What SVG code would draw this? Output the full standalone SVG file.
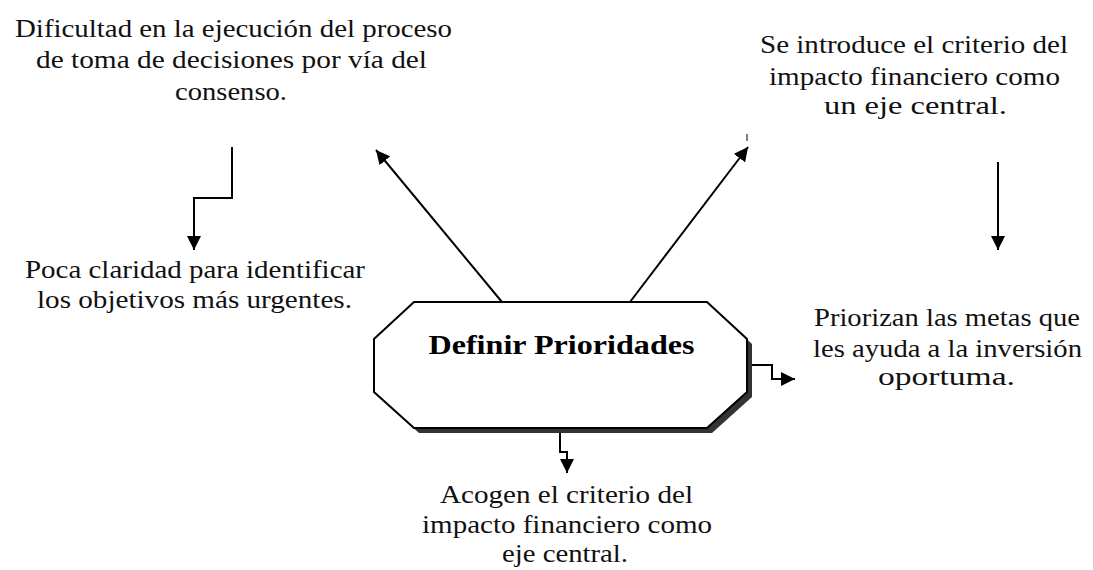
<svg xmlns="http://www.w3.org/2000/svg" width="1093" height="570" viewBox="0 0 1093 570">
<style>
text{font-family:'Liberation Serif',Tinos,'Times New Roman',Times,serif}
.t{font-size:25px;fill:#111;text-anchor:middle}
.title{font-size:28px;font-weight:bold;fill:#000;text-anchor:middle}
.c{fill:none;stroke:#000;stroke-width:2}
</style>
<defs>
<marker id="ah" markerUnits="userSpaceOnUse" markerWidth="14" markerHeight="14" refX="14" refY="7" orient="auto">
<path d="M0,0 L14,7 L0,14 z" fill="#000"/>
</marker>
</defs>
<rect width="1093" height="570" fill="#fff"/>
<g id="center">
<polygon points="419,307 712,307 752,344 752,397 712,433 419,433 379,397 379,344" fill="#333"/>
<polygon points="414,302 707,302 747,339 747,392 707,428 414,428 374,392 374,339" fill="#fff" stroke="#000" stroke-width="2"/>
<text class="title" x="561.5" y="354" textLength="266" lengthAdjust="spacingAndGlyphs">Definir Prioridades</text>
</g>
<g id="connectors">
<line class="c" x1="502" y1="302" x2="376" y2="150" marker-end="url(#ah)"/>
<line class="c" x1="630" y1="302" x2="748" y2="147" marker-end="url(#ah)"/>
<line x1="747" y1="134" x2="747" y2="141" stroke="#000" stroke-width="1"/>
<path class="c" d="M232,147 V198 H194 V250" marker-end="url(#ah)"/>
<path class="c" d="M998,162 V250" marker-end="url(#ah)"/>
<path class="c" d="M560,433 V452 H567 V473" marker-end="url(#ah)"/>
<path class="c" d="M752,365 H772 V379 H795" marker-end="url(#ah)"/>
</g>
<g id="n-top-left">
<text class="t" x="233.5" y="37" textLength="437" lengthAdjust="spacingAndGlyphs">Dificultad en la ejecución del proceso</text>
<text class="t" x="231.5" y="68" textLength="391" lengthAdjust="spacingAndGlyphs">de toma de decisiones por vía del</text>
<text class="t" x="231" y="100" textLength="112" lengthAdjust="spacingAndGlyphs">consenso.</text>
</g>
<g id="n-top-right">
<text class="t" x="914" y="53" textLength="308" lengthAdjust="spacingAndGlyphs">Se introduce el criterio del</text>
<text class="t" x="914.5" y="85" textLength="291" lengthAdjust="spacingAndGlyphs">impacto financiero como</text>
<text class="t" x="915.5" y="114" textLength="183" lengthAdjust="spacingAndGlyphs">un eje central.</text>
</g>
<g id="n-left">
<text class="t" x="195" y="278" textLength="340" lengthAdjust="spacingAndGlyphs">Poca claridad para identificar</text>
<text class="t" x="194.5" y="308" textLength="315" lengthAdjust="spacingAndGlyphs">los objetivos más urgentes.</text>
</g>
<g id="n-right">
<text class="t" x="947" y="326" textLength="266" lengthAdjust="spacingAndGlyphs">Priorizan las metas que</text>
<text class="t" x="947.5" y="357" textLength="269" lengthAdjust="spacingAndGlyphs">les ayuda a la inversión</text>
<text class="t" x="946.5" y="385" textLength="137" lengthAdjust="spacingAndGlyphs">oportuma.</text>
</g>
<g id="n-bottom">
<text class="t" x="566.5" y="503" textLength="253" lengthAdjust="spacingAndGlyphs">Acogen el criterio del</text>
<text class="t" x="567" y="533" textLength="290" lengthAdjust="spacingAndGlyphs">impacto financiero como</text>
<text class="t" x="565" y="562" textLength="126" lengthAdjust="spacingAndGlyphs">eje central.</text>
</g>
</svg>
